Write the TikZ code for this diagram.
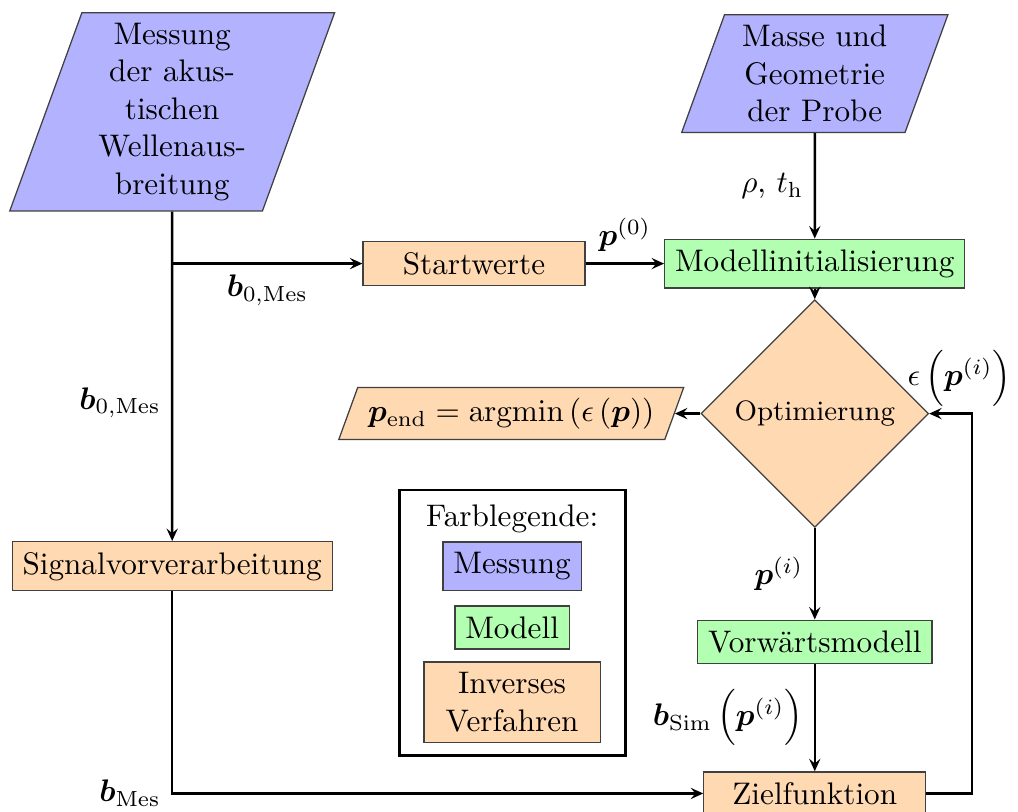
\documentclass[tikz,border=0pt]{standalone}
\usepackage{amsmath,amssymb}
\usepackage{bm}
\usepackage{xcolor}
\usepackage{tikz}
\usetikzlibrary{arrows.meta,positioning,shapes.geometric}

\begin{document}
\begin{tikzpicture}[
  >={Stealth[length=4pt, width=3.6pt, inset=1.5pt]},
  box/.style={rectangle, draw=black!75, align=center},
  model/.style={box, fill=green!30},
  inv/.style={box, fill=orange!30},
  measbox/.style={box, fill=blue!30},
  meas/.style={trapezium, trapezium left angle=70, trapezium right angle=110,
               draw=black!75, fill=blue!30, text width=1.8cm, align=center},
  invio/.style={trapezium, trapezium left angle=70, trapezium right angle=110,
                draw=black!75, fill=orange!30},
  decide/.style={diamond, aspect=1, draw=black!75, fill=orange!30, font=\small},
  arr/.style={->, thick},
]
\useasboundingbox (0,0) rectangle (11.47,-9.148);

% ---- Eingaben ----
\node[meas] (wave) at (1.94,-1.26) {Messung\\der akus-\\tischen\\Wellenaus-\\breitung};
\node[meas] (mass) at (9.18,-0.83) {Masse und\\Geometrie\\der Probe};

% ---- Ablauf ----
\node[inv, minimum width=2.5cm] (start) at (5.34,-2.97) {Startwerte};
\node[model] (init) at (9.18,-2.97) {Modellinitialisierung};
\node[decide] (opt) at (9.18,-4.66) {Optimierung};
\node[invio] (pend) at (5.76,-4.66) {$\bm{p}_{\mathrm{end}} = \mathrm{argmin}\left(\epsilon\left(\bm{p}\right)\right)$};
\node[inv] (sig) at (1.94,-6.38) {Signalvorverarbeitung};
\node[model] (fwd) at (9.18,-7.23) {Vorwärtsmodell};
\node[inv, minimum width=2.5cm] (goal) at (9.18,-8.94) {Zielfunktion};

% ---- Farblegende ----
\node[draw, thick, minimum width=2.55cm, minimum height=2.99cm] (legend) at (5.775,-7.015) {};
\node (legtitle) at (5.77,-5.85) {Farblegende:};
\node[measbox] (keymeas) at (5.77,-6.38) {Messung};
\node[model] (keymodel) at (5.77,-7.07) {Modell};
\node[inv, text width=1.75cm] (keyinv) at (5.77,-7.91) {Inverses\\Verfahren};

% ---- Hilfspunkte ----
\coordinate (split) at (1.94,-2.97);
\coordinate (loop) at (10.95,-4.66);

% ---- Pfeile ----
\draw[arr] (wave) -- node[left, pos=0.58] {$\bm{b}_{0,\mathrm{Mes}}$} (sig);
\draw[arr] (split) -- node[below] {$\bm{b}_{0,\mathrm{Mes}}$} (start);
\draw[arr] (start) -- node[above] {$\bm{p}^{(0)}$} (init);
\draw[arr] (mass) -- node[left] {$\rho$, $t_\mathrm{h}$} (init);
\draw[arr] (init) -- (opt);
\draw[arr] (opt) -- (pend);
\draw[arr] (opt) -- node[left] {$\bm{p}^{(i)}$} (fwd);
\draw[arr] (fwd) -- node[left] {$\bm{b}_\mathrm{Sim}\,\Bigl(\bm{p}^{(i)}\Bigr)$} (goal);
\draw[arr] (sig) |- node[pos=0.5, left] {$\bm{b}_\mathrm{Mes}$} (goal);
\draw[arr] (goal) -| (loop) node[above, xshift=-4pt, inner sep=2pt] {$\epsilon\,\Bigl(\bm{p}^{(i)}\Bigr)$} -- (opt);

\end{tikzpicture}
\end{document}
